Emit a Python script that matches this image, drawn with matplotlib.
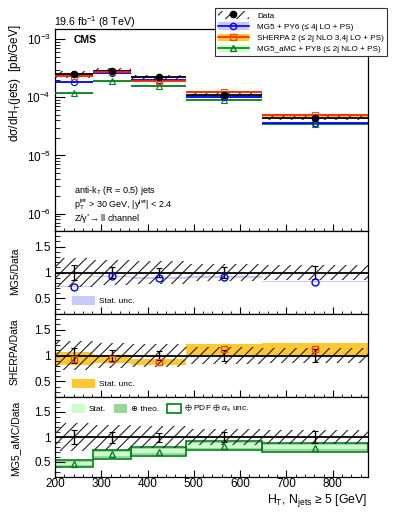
import matplotlib
matplotlib.use('Agg')
import matplotlib.pyplot as plt
import numpy as np
from matplotlib.patches import Patch, Rectangle
from matplotlib.lines import Line2D
from matplotlib.ticker import MultipleLocator, LogLocator, NullFormatter, FuncFormatter

plt.rcParams['font.family'] = ['Liberation Sans', 'DejaVu Sans']
plt.rcParams['mathtext.fontset'] = 'custom'
plt.rcParams['mathtext.rm'] = 'Liberation Sans'
plt.rcParams['mathtext.it'] = 'Liberation Sans:italic'
plt.rcParams['mathtext.bf'] = 'Liberation Sans:bold'
plt.rcParams['mathtext.fallback'] = 'stixsans'
plt.rcParams['hatch.linewidth'] = 0.8

# ---------------- data ----------------
bin_edges = [200, 283, 365, 483, 648, 875]
bin_centers = [242, 324, 424, 564, 762]
data_xsec = [2.5e-4, 2.85e-4, 2.2e-4, 1.1e-4, 4.4e-5]
data_stat = [0.14, 0.11, 0.09, 0.10, 0.12]      # relative
data_tot = [0.28, 0.25, 0.22, 0.16, 0.14]       # relative
mg5_ratio = [0.73, 0.925, 0.89, 0.91, 0.825]
mg5_stat = [0.015, 0.015, 0.015, 0.015, 0.015]
sherpa_ratio = [0.94, 0.94, 0.88, 1.12, 1.12]
sherpa_stat = [0.125, 0.075, 0.055, 0.11, 0.12]
amc_ratio = [0.47, 0.66, 0.71, 0.83, 0.79]
amc_stat = [0.03, 0.04, 0.04, 0.04, 0.04]
amc_theo = [0.055, 0.075, 0.07, 0.07, 0.075]
amc_pdf = [0.065, 0.09, 0.085, 0.085, 0.09]

# colours
C_MG5 = '#0000ff'; C_MG5_BAND = '#c8c8ff'
C_SH = '#ff2200'; C_SH_BAND = '#ffc832'; C_SH_MK = '#ff4500'
C_AMC = '#00801a'; C_AMC_STAT = '#ccffcc'; C_AMC_THEO = '#99d699'

W, H = 399, 516
fig = plt.figure(figsize=(W / 100, H / 100), dpi=100)

L = 55 / W; R = 367.5 / W
def ax_at(top_px, bot_px):
    return fig.add_axes([L, 1 - bot_px / H, R - L, (bot_px - top_px) / H])

ax0 = ax_at(29, 231)
ax1 = ax_at(231, 314)
ax2 = ax_at(314, 397)
ax3 = ax_at(397, 477)
axes = [ax0, ax1, ax2, ax3]

edges = np.array(bin_edges, float)
x0s, x1s = edges[:-1], edges[1:]
d = np.array(data_xsec)

# ---------------- main panel ----------------
for i in range(5):
    xs = [x0s[i], x1s[i]]
    mg = mg5_ratio[i] * d[i]
    sh = sherpa_ratio[i] * d[i]
    am = amc_ratio[i] * d[i]
    ax0.fill_between(xs, mg * (1 - mg5_stat[i]), mg * (1 + mg5_stat[i]), color=C_MG5_BAND, lw=0, zorder=1)
    ax0.fill_between(xs, sh * (1 - sherpa_stat[i] / 2), sh * (1 + sherpa_stat[i] / 2), color=C_SH_BAND, lw=0, zorder=1)
    ax0.fill_between(xs, am * (1 - amc_stat[i] / 2), am * (1 + amc_stat[i] / 2), color=C_AMC_STAT, lw=0, zorder=1)
    ax0.fill_between(xs, d[i] * (1 - data_tot[i] / 2), d[i] * (1 + data_tot[i] / 2), facecolor='none',
                     edgecolor='#222222', hatch='///', lw=0, zorder=2)
    ax0.hlines(am, xs[0], xs[1], color=C_AMC, lw=1.3, zorder=3)
    ax0.hlines(mg, xs[0], xs[1], color=C_MG5, lw=1.3, zorder=3)
    ax0.hlines(d[i], xs[0], xs[1], color='black', lw=1.3, zorder=3)
    ax0.hlines(sh, xs[0], xs[1], color=C_SH, lw=1.3, zorder=3)

ax0.plot(bin_centers, np.array(amc_ratio) * d, ls='none', marker='^', ms=4.5, mfc='none', mec=C_AMC, mew=0.8, zorder=4)
ax0.plot(bin_centers, np.array(mg5_ratio) * d, ls='none', marker='o', ms=4.5, mfc='none', mec=C_MG5, mew=0.8, zorder=4)
ax0.plot(bin_centers, np.array(sherpa_ratio) * d, ls='none', marker='s', ms=4.5, mfc='none', mec=C_SH_MK, mew=0.8, zorder=4)
ax0.errorbar(bin_centers, d, yerr=d * np.array(data_stat) / 2, fmt='o', color='black', ms=4.5, lw=1, capsize=0, zorder=5)

ax0.set_yscale('log')
ax0.set_ylim(5e-7, 1.5e-3)
ax0.yaxis.set_major_locator(LogLocator(base=10))
ax0.yaxis.set_minor_locator(LogLocator(base=10, subs=np.arange(2, 10)))
ax0.yaxis.set_minor_formatter(NullFormatter())

# ---------------- ratio panels ----------------
def data_band(ax):
    for i in range(5):
        ax.fill_between([x0s[i], x1s[i]], 1 - data_tot[i], 1 + data_tot[i], facecolor='none',
                        edgecolor='#222222', hatch='///', lw=0, zorder=3)
    ax.axhline(1, color='black', lw=1.3, zorder=4)
    ax.errorbar(bin_centers, np.ones(5), yerr=data_stat, fmt='none', ecolor='black', lw=1,
                capsize=2, capthick=0.8, zorder=5)

# MG5
for i in range(5):
    ax1.fill_between([x0s[i], x1s[i]], mg5_ratio[i] - mg5_stat[i], mg5_ratio[i] + mg5_stat[i],
                     color=C_MG5_BAND, lw=0, zorder=1)
data_band(ax1)
ax1.plot(bin_centers, mg5_ratio, ls='none', marker='o', ms=5, mfc='none', mec=C_MG5, mew=1, zorder=6)
ax1.legend(handles=[Patch(facecolor=C_MG5_BAND, edgecolor='none')], labels=['Stat. unc.'],
           loc='lower left', bbox_to_anchor=(0.03, 0.02), frameon=False, fontsize=6,
           handlelength=2.8, handleheight=1.3, handletextpad=0.5)

# SHERPA
for i in range(5):
    ax2.fill_between([x0s[i], x1s[i]], sherpa_ratio[i] - sherpa_stat[i], sherpa_ratio[i] + sherpa_stat[i],
                     color=C_SH_BAND, lw=0, zorder=1)
data_band(ax2)
ax2.plot(bin_centers, sherpa_ratio, ls='none', marker='s', ms=4.5, mfc='none', mec=C_SH_MK, mew=1, zorder=6)
ax2.legend(handles=[Patch(facecolor=C_SH_BAND, edgecolor='none')], labels=['Stat. unc.'],
           loc='lower left', bbox_to_anchor=(0.03, 0.02), frameon=False, fontsize=6,
           handlelength=2.8, handleheight=1.3, handletextpad=0.5)

# MG5_aMC
for i in range(5):
    xs = [x0s[i], x1s[i]]
    r = amc_ratio[i]
    ax3.fill_between(xs, r - amc_theo[i], r + amc_theo[i], color=C_AMC_THEO, lw=0, zorder=1)
    ax3.fill_between(xs, r - amc_stat[i], r + amc_stat[i], color=C_AMC_STAT, lw=0, zorder=1)
    ax3.add_patch(Rectangle((x0s[i], r - amc_pdf[i]), x1s[i] - x0s[i], 2 * amc_pdf[i],
                            facecolor='none', edgecolor=C_AMC, lw=1.2, zorder=2))
data_band(ax3)
ax3.plot(bin_centers, amc_ratio, ls='none', marker='^', ms=5, mfc='none', mec=C_AMC, mew=1, zorder=6)
ax3.legend(handles=[Patch(facecolor=C_AMC_STAT, edgecolor='none'),
                    Patch(facecolor=C_AMC_THEO, edgecolor='none'),
                    Patch(facecolor='white', edgecolor=C_AMC, lw=1.2)],
           labels=['Stat.', '⊕ theo.', r'$\oplus$ PDF $\oplus$ $\alpha_{\rm s}$ unc.'],
           loc='upper left', bbox_to_anchor=(0.03, 1.02), frameon=False, fontsize=6, ncol=3,
           handlelength=1.6, handleheight=1.3, handletextpad=0.4, columnspacing=1.0)

for ax in (ax1, ax2, ax3):
    ax.set_ylim(0.2, 1.8)
    ax.yaxis.set_major_locator(MultipleLocator(0.5))
    ax.yaxis.set_minor_locator(MultipleLocator(0.1))
    ax.yaxis.set_major_formatter(FuncFormatter(lambda v, p: '%g' % v))

for ax in axes:
    ax.set_xlim(200, 875)
    ax.xaxis.set_major_locator(MultipleLocator(100))
    ax.xaxis.set_minor_locator(MultipleLocator(20))
    ax.tick_params(which='both', direction='in', top=False, right=False, labelsize=8.5, pad=3)
    ax.tick_params(axis='x', pad=0.5)
    ax.tick_params(axis='y', which='major', length=7)
    ax.tick_params(axis='y', which='minor', length=3.6)
    ax.tick_params(axis='x', which='major', length=5)
    ax.tick_params(axis='x', which='minor', length=2.5)
    for s in ax.spines.values():
        s.set_linewidth(0.9)
for ax in (ax0, ax1, ax2):
    ax.tick_params(labelbottom=False)

# ---------------- texts ----------------
fig.text(54.3 / W, 1 - 26.5 / H, r'19.6 fb$^{-1}$ (8 TeV)', fontsize=7.7, ha='left', va='baseline')
fig.text(74 / W, 1 - 43.3 / H, 'CMS', fontsize=7.5, fontweight='bold', va='baseline')
fig.text(74 / W, 1 - 192.7 / H, r'anti-k$_{\rm T}$ (R = 0.5) jets', fontsize=6.5, va='baseline')
fig.text(74 / W, 1 - 208 / H, r'p$_{\rm T}^{\rm jet}$ > 30 GeV, |y$^{\rm jet}$| < 2.4', fontsize=6.5, va='baseline')
fig.text(74 / W, 1 - 221.7 / H, r'Z/γ$^{*}$→ ll channel', fontsize=6.5, va='baseline')

fig.text(15 / W, 1 - 24 / H, r'dσ/dH$_{\rm T}$(jets)  [pb/GeV]', rotation=90, ha='center', va='top', fontsize=8.5)
fig.text(15 / W, 1 - 271 / H, 'MG5/Data', rotation=90, ha='center', va='center', fontsize=7.5)
fig.text(15 / W, 1 - 352 / H, 'SHERPA/Data', rotation=90, ha='center', va='center', fontsize=7.5)
fig.text(15 / W, 1 - 438 / H, 'MG5_aMC/Data', rotation=90, ha='center', va='center', fontsize=7.5)
fig.text(367.5 / W, 1 - 503 / H, r'H$_{\rm T}$, N$_{\rm jets}$ ≥ 5 [GeV]', ha='right', va='baseline', fontsize=8.8)

# ---------------- main legend ----------------
h_data = (Patch(facecolor='none', edgecolor='#222222', hatch='///', lw=0),
          Line2D([], [], color='black', marker='o', ms=4.5, ls='none'))
h_mg5 = (Patch(facecolor=C_MG5_BAND, edgecolor='none'),
         Line2D([], [], color=C_MG5, lw=1.2, marker='o', ms=4.5, mfc='none', mec=C_MG5))
h_sh = (Patch(facecolor=C_SH_BAND, edgecolor='none'),
        Line2D([], [], color=C_SH, lw=1.2, marker='s', ms=4.5, mfc='none', mec=C_SH_MK))
h_amc = (Patch(facecolor=C_AMC_STAT, edgecolor='none'),
         Line2D([], [], color=C_AMC, lw=1.2, marker='^', ms=4.5, mfc='none', mec=C_AMC))
leg = fig.legend(handles=[h_data, h_mg5, h_sh, h_amc],
                 labels=['Data', 'MG5 + PY6 (≤ 4j LO + PS)', 'SHERPA 2 (≤ 2j NLO 3,4j LO + PS)',
                         'MG5_aMC + PY8 (≤ 2j NLO + PS)'],
                 loc='upper left', bbox_to_anchor=(215 / W, 1 - 8.3 / H), fontsize=5.9,
                 frameon=True, fancybox=False, edgecolor='#333333', framealpha=1,
                 handlelength=3.8, handleheight=1.0, handletextpad=1.0, labelspacing=0.33,
                 borderpad=0.35, borderaxespad=0)
leg.get_frame().set_linewidth(0.8)
leg.set_zorder(10)

fig.savefig('out.png', dpi=100)
